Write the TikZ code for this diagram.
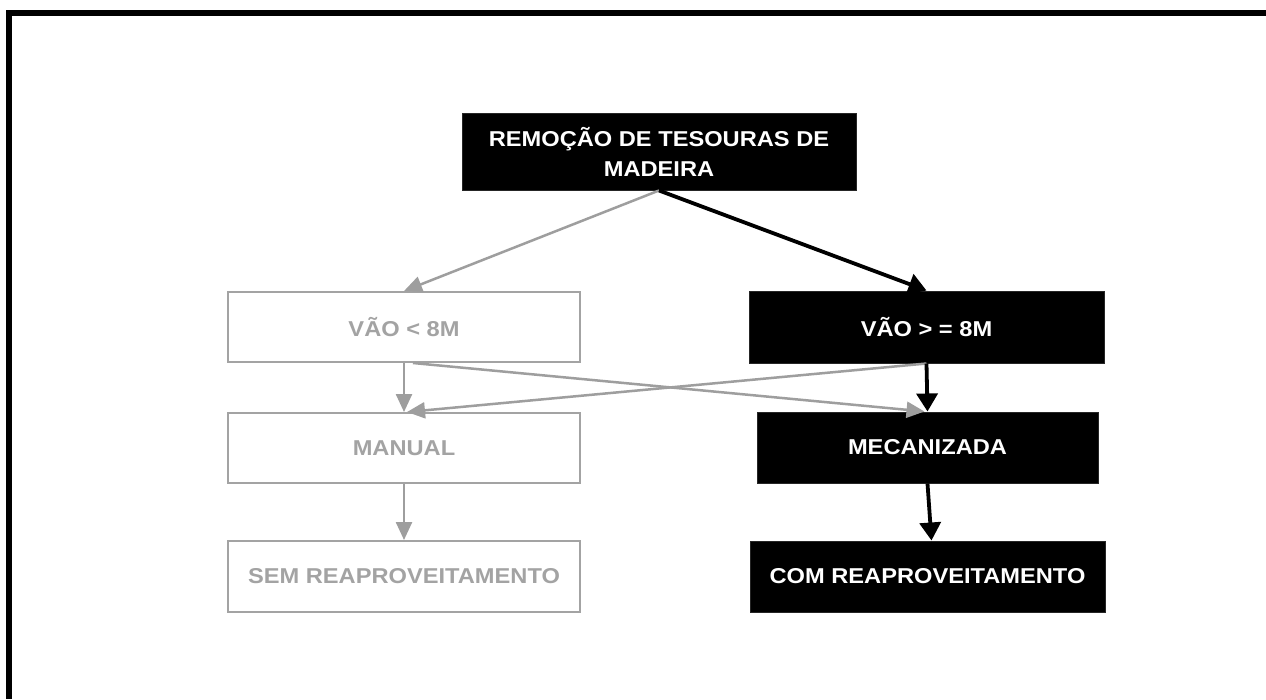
\documentclass[tikz,border=0pt]{standalone}
\usepackage{fontspec}
\setmainfont{Liberation Sans}[FakeStretch=1.1]
\usetikzlibrary{arrows.meta}
\definecolor{lgray}{RGB}{158,158,158}
\definecolor{bgray}{RGB}{163,163,163}
\begin{document}
\begin{tikzpicture}[x=1pt,y=-1pt,
  txt/.style={font=\fontsize{21.5}{30}\selectfont\bfseries, align=center, inner sep=0pt},
  blackbox/.style={txt, fill=black, draw=black!85, line width=1pt, text=white},
  graybox/.style={txt, fill=white, draw=bgray, line width=2pt, text=bgray},
  grayarrow/.style={draw=lgray, line width=2.5pt, -{Triangle[length=18pt,width=16pt]}},
  blackarrow/.style={draw=black, line width=3.8pt, -{Triangle[length=18pt,width=21pt]}}
]
\useasboundingbox (0,0) rectangle (1266,699);
\fill[white] (0,0) rectangle (1266,699);
% frame
\fill[black] (6,10) rectangle (1266,16);
\fill[black] (6,10) rectangle (12,699);
% nodes
\node[blackbox, minimum width=394pt, minimum height=77pt] (top) at (659,151.5) {REMOÇÃO DE TESOURAS DE\\MADEIRA};
\node[graybox, minimum width=352pt, minimum height=70pt] (vl) at (404,327) {VÃO < 8M};
\node[blackbox, minimum width=355pt, minimum height=72pt] (vr) at (926.5,327) {VÃO > = 8M};
\node[graybox, minimum width=352pt, minimum height=70pt] (man) at (404,448) {MANUAL};
\node[blackbox, minimum width=341pt, minimum height=71pt] (mec) at (927.5,447.5) {MECANIZADA};
\node[graybox, minimum width=352pt, minimum height=71pt] (sem) at (404,576.5) {SEM REAPROVEITAMENTO};
\node[blackbox, minimum width=355pt, minimum height=71pt] (com) at (927.5,576.5) {COM REAPROVEITAMENTO};
% connectors
\draw[grayarrow] (top.south) -- (vl.north);
\draw[grayarrow] (vl.south) -- (man.north);
\draw[grayarrow] ([xshift=9pt]vl.south) -- ([xshift=-3pt]mec.north);
\draw[grayarrow] (vr.south) -- ([xshift=3pt]man.north);
\draw[grayarrow] (man.south) -- (sem.north);
\draw[blackarrow] (top.south) -- (vr.north);
\draw[blackarrow] (vr.south) -- (mec.north);
\draw[blackarrow] (mec.south) -- ([xshift=4pt]com.north);
\end{tikzpicture}
\end{document}
